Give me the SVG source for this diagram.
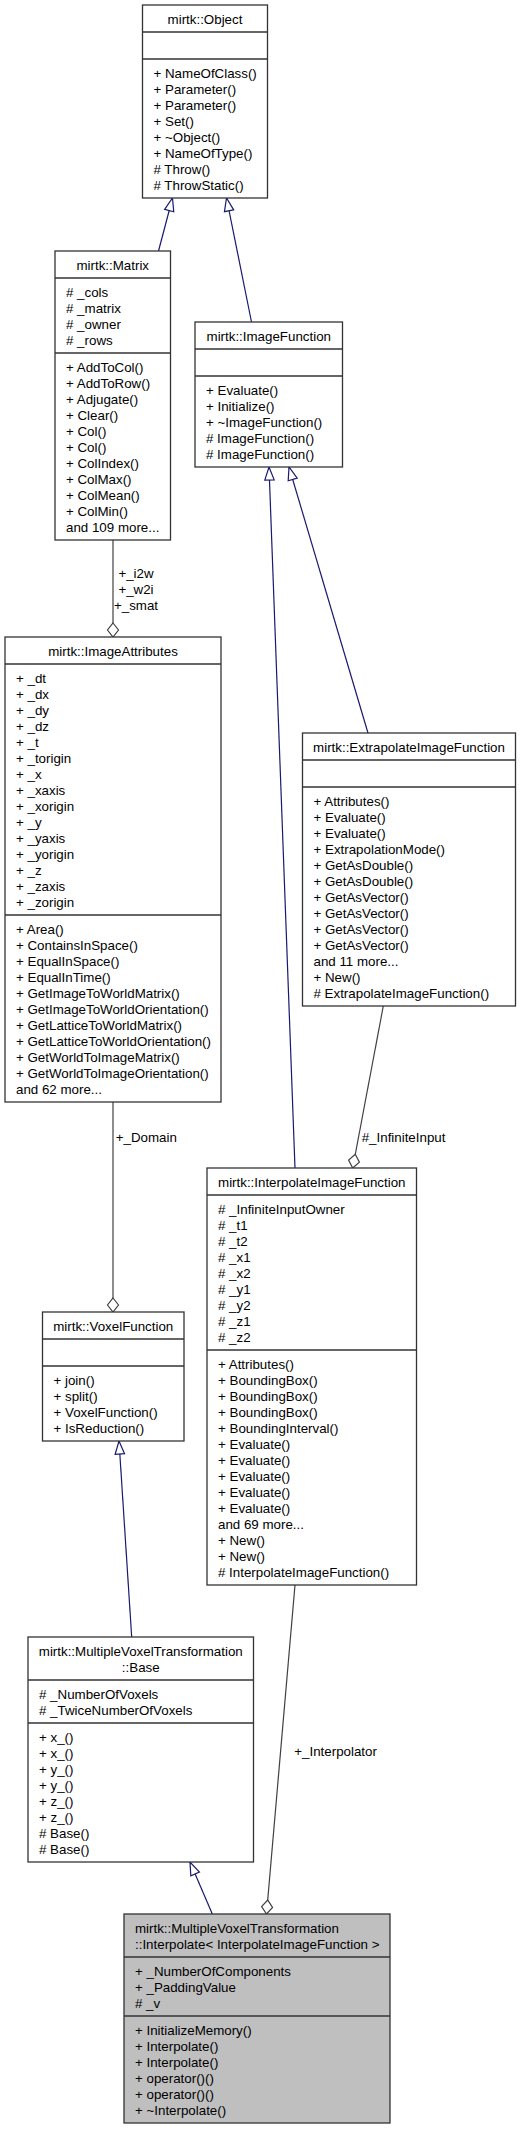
<svg xmlns="http://www.w3.org/2000/svg" width="520" height="2131" viewBox="0 0 520 2131">
<style>
text{font-family:"Liberation Sans",Arial,Helvetica,sans-serif;font-size:13.33px;fill:#000}
.c{text-anchor:middle}
.box{fill:#fff;stroke:#333;stroke-width:1.3}
.main{fill:#bfbfbf;stroke:#333;stroke-width:1.3}
.div{stroke:#333;stroke-width:1.3}
.inh{fill:none;stroke:#191970;stroke-width:1.2}
.agg{fill:none;stroke:#404040;stroke-width:1.2}
</style>
<defs>
<marker id="tri" markerUnits="userSpaceOnUse" markerWidth="16" markerHeight="12" refX="13" refY="5" orient="auto" overflow="visible">
<path d="M0,0.3 L13,5 L0,9.7 Z" fill="#fff" stroke="#191970" stroke-width="1.2"/>
</marker>
<marker id="dia" markerUnits="userSpaceOnUse" markerWidth="16" markerHeight="12" refX="14" refY="5.5" orient="auto" overflow="visible">
<path d="M0,5.5 L7,0 L14,5.5 L7,11 Z" fill="#fff" stroke="#404040" stroke-width="1.2"/>
</marker>
</defs>

<g id="edges">
<path class="inh" d="M158.5,251 L172.5,198" marker-end="url(#tri)"/>
<path class="inh" d="M251.5,322 L226.5,198" marker-end="url(#tri)"/>
<path class="inh" d="M295,1168 L269,467" marker-end="url(#tri)"/>
<path class="inh" d="M368,733 L289,467" marker-end="url(#tri)"/>
<path class="agg" d="M113,540 L113,637" marker-end="url(#dia)"/>
<path class="agg" d="M113,1102 L113,1312" marker-end="url(#dia)"/>
<path class="agg" d="M383.3,1006 L352.7,1168" marker-end="url(#dia)"/>
<path class="agg" d="M295,1585 L266.5,1914" marker-end="url(#dia)"/>
<path class="inh" d="M131.7,1637 L119,1441" marker-end="url(#tri)"/>
<path class="inh" d="M212.3,1914 L190,1862" marker-end="url(#tri)"/>
<text class="c" x="136" y="578">+_i2w</text>
<text class="c" x="136" y="594">+_w2i</text>
<text class="c" x="136" y="610">+_smat</text>
<text x="115.7" y="1141.5">+_Domain</text>
<text x="361.7" y="1141.5">#_InfiniteInput</text>
<text x="294.3" y="1755.5">+_Interpolator</text>
</g>

<g id="Object">
<rect class="box" x="142.5" y="5" width="125" height="193"/>
<line class="div" x1="142.5" y1="32" x2="267.5" y2="32"/>
<line class="div" x1="142.5" y1="59" x2="267.5" y2="59"/>
<text class="c" x="205" y="24">mirtk::Object</text>
<text x="153.5" y="78">+ NameOfClass()</text>
<text x="153.5" y="94">+ Parameter()</text>
<text x="153.5" y="110">+ Parameter()</text>
<text x="153.5" y="126">+ Set()</text>
<text x="153.5" y="142">+ ~Object()</text>
<text x="153.5" y="158">+ NameOfType()</text>
<text x="153.5" y="174"># Throw()</text>
<text x="153.5" y="190"># ThrowStatic()</text>
</g>

<g id="Matrix">
<rect class="box" x="55" y="251" width="115.5" height="289"/>
<line class="div" x1="55" y1="278" x2="170.5" y2="278"/>
<line class="div" x1="55" y1="353" x2="170.5" y2="353"/>
<text class="c" x="112.75" y="270">mirtk::Matrix</text>
<text x="66" y="297"># _cols</text>
<text x="66" y="313"># _matrix</text>
<text x="66" y="329"># _owner</text>
<text x="66" y="345"># _rows</text>
<text x="66" y="372">+ AddToCol()</text>
<text x="66" y="388">+ AddToRow()</text>
<text x="66" y="404">+ Adjugate()</text>
<text x="66" y="420">+ Clear()</text>
<text x="66" y="436">+ Col()</text>
<text x="66" y="452">+ Col()</text>
<text x="66" y="468">+ ColIndex()</text>
<text x="66" y="484">+ ColMax()</text>
<text x="66" y="500">+ ColMean()</text>
<text x="66" y="516">+ ColMin()</text>
<text x="66" y="532">and 109 more...</text>
</g>

<g id="ImageFunction">
<rect class="box" x="195" y="322" width="147.5" height="145"/>
<line class="div" x1="195" y1="349" x2="342.5" y2="349"/>
<line class="div" x1="195" y1="376" x2="342.5" y2="376"/>
<text class="c" x="268.75" y="341">mirtk::ImageFunction</text>
<text x="206" y="395">+ Evaluate()</text>
<text x="206" y="411">+ Initialize()</text>
<text x="206" y="427">+ ~ImageFunction()</text>
<text x="206" y="443"># ImageFunction()</text>
<text x="206" y="459"># ImageFunction()</text>
</g>

<g id="ImageAttributes">
<rect class="box" x="5" y="637" width="216" height="465"/>
<line class="div" x1="5" y1="664" x2="221" y2="664"/>
<line class="div" x1="5" y1="915" x2="221" y2="915"/>
<text class="c" x="113" y="656">mirtk::ImageAttributes</text>
<text x="16" y="683">+ _dt</text>
<text x="16" y="699">+ _dx</text>
<text x="16" y="715">+ _dy</text>
<text x="16" y="731">+ _dz</text>
<text x="16" y="747">+ _t</text>
<text x="16" y="763">+ _torigin</text>
<text x="16" y="779">+ _x</text>
<text x="16" y="795">+ _xaxis</text>
<text x="16" y="811">+ _xorigin</text>
<text x="16" y="827">+ _y</text>
<text x="16" y="843">+ _yaxis</text>
<text x="16" y="859">+ _yorigin</text>
<text x="16" y="875">+ _z</text>
<text x="16" y="891">+ _zaxis</text>
<text x="16" y="907">+ _zorigin</text>
<text x="16" y="934">+ Area()</text>
<text x="16" y="950">+ ContainsInSpace()</text>
<text x="16" y="966">+ EqualInSpace()</text>
<text x="16" y="982">+ EqualInTime()</text>
<text x="16" y="998">+ GetImageToWorldMatrix()</text>
<text x="16" y="1014">+ GetImageToWorldOrientation()</text>
<text x="16" y="1030">+ GetLatticeToWorldMatrix()</text>
<text x="16" y="1046">+ GetLatticeToWorldOrientation()</text>
<text x="16" y="1062">+ GetWorldToImageMatrix()</text>
<text x="16" y="1078">+ GetWorldToImageOrientation()</text>
<text x="16" y="1094">and 62 more...</text>
</g>

<g id="ExtrapolateImageFunction">
<rect class="box" x="302.5" y="733" width="213" height="273"/>
<line class="div" x1="302.5" y1="760" x2="515.5" y2="760"/>
<line class="div" x1="302.5" y1="787" x2="515.5" y2="787"/>
<text class="c" x="409" y="752">mirtk::ExtrapolateImageFunction</text>
<text x="313.5" y="806">+ Attributes()</text>
<text x="313.5" y="822">+ Evaluate()</text>
<text x="313.5" y="838">+ Evaluate()</text>
<text x="313.5" y="854">+ ExtrapolationMode()</text>
<text x="313.5" y="870">+ GetAsDouble()</text>
<text x="313.5" y="886">+ GetAsDouble()</text>
<text x="313.5" y="902">+ GetAsVector()</text>
<text x="313.5" y="918">+ GetAsVector()</text>
<text x="313.5" y="934">+ GetAsVector()</text>
<text x="313.5" y="950">+ GetAsVector()</text>
<text x="313.5" y="966">and 11 more...</text>
<text x="313.5" y="982">+ New()</text>
<text x="313.5" y="998"># ExtrapolateImageFunction()</text>
</g>

<g id="InterpolateImageFunction">
<rect class="box" x="207" y="1168" width="209.5" height="417"/>
<line class="div" x1="207" y1="1195" x2="416.5" y2="1195"/>
<line class="div" x1="207" y1="1350" x2="416.5" y2="1350"/>
<text class="c" x="311.75" y="1187">mirtk::InterpolateImageFunction</text>
<text x="218" y="1214"># _InfiniteInputOwner</text>
<text x="218" y="1230"># _t1</text>
<text x="218" y="1246"># _t2</text>
<text x="218" y="1262"># _x1</text>
<text x="218" y="1278"># _x2</text>
<text x="218" y="1294"># _y1</text>
<text x="218" y="1310"># _y2</text>
<text x="218" y="1326"># _z1</text>
<text x="218" y="1342"># _z2</text>
<text x="218" y="1369">+ Attributes()</text>
<text x="218" y="1385">+ BoundingBox()</text>
<text x="218" y="1401">+ BoundingBox()</text>
<text x="218" y="1417">+ BoundingBox()</text>
<text x="218" y="1433">+ BoundingInterval()</text>
<text x="218" y="1449">+ Evaluate()</text>
<text x="218" y="1465">+ Evaluate()</text>
<text x="218" y="1481">+ Evaluate()</text>
<text x="218" y="1497">+ Evaluate()</text>
<text x="218" y="1513">+ Evaluate()</text>
<text x="218" y="1529">and 69 more...</text>
<text x="218" y="1545">+ New()</text>
<text x="218" y="1561">+ New()</text>
<text x="218" y="1577"># InterpolateImageFunction()</text>
</g>

<g id="VoxelFunction">
<rect class="box" x="42.5" y="1312" width="141.5" height="129"/>
<line class="div" x1="42.5" y1="1339" x2="184" y2="1339"/>
<line class="div" x1="42.5" y1="1366" x2="184" y2="1366"/>
<text class="c" x="113.25" y="1331">mirtk::VoxelFunction</text>
<text x="53.5" y="1385">+ join()</text>
<text x="53.5" y="1401">+ split()</text>
<text x="53.5" y="1417">+ VoxelFunction()</text>
<text x="53.5" y="1433">+ IsReduction()</text>
</g>

<g id="Base">
<rect class="box" x="28" y="1637" width="225.5" height="225"/>
<line class="div" x1="28" y1="1680" x2="253.5" y2="1680"/>
<line class="div" x1="28" y1="1723" x2="253.5" y2="1723"/>
<text class="c" x="140.75" y="1656">mirtk::MultipleVoxelTransformation</text>
<text class="c" x="140.75" y="1672">::Base</text>
<text x="39" y="1699"># _NumberOfVoxels</text>
<text x="39" y="1715"># _TwiceNumberOfVoxels</text>
<text x="39" y="1742">+ x_()</text>
<text x="39" y="1758">+ x_()</text>
<text x="39" y="1774">+ y_()</text>
<text x="39" y="1790">+ y_()</text>
<text x="39" y="1806">+ z_()</text>
<text x="39" y="1822">+ z_()</text>
<text x="39" y="1838"># Base()</text>
<text x="39" y="1854"># Base()</text>
</g>

<g id="Interpolate">
<rect class="main" x="124" y="1914" width="266" height="209"/>
<line class="div" x1="124" y1="1957" x2="390" y2="1957"/>
<line class="div" x1="124" y1="2016" x2="390" y2="2016"/>
<text x="135" y="1933">mirtk::MultipleVoxelTransformation</text>
<text x="135" y="1949">::Interpolate&lt; InterpolateImageFunction &gt;</text>
<text x="135" y="1976">+ _NumberOfComponents</text>
<text x="135" y="1992">+ _PaddingValue</text>
<text x="135" y="2008"># _v</text>
<text x="135" y="2035">+ InitializeMemory()</text>
<text x="135" y="2051">+ Interpolate()</text>
<text x="135" y="2067">+ Interpolate()</text>
<text x="135" y="2083">+ operator()()</text>
<text x="135" y="2099">+ operator()()</text>
<text x="135" y="2115">+ ~Interpolate()</text>
</g>
</svg>
